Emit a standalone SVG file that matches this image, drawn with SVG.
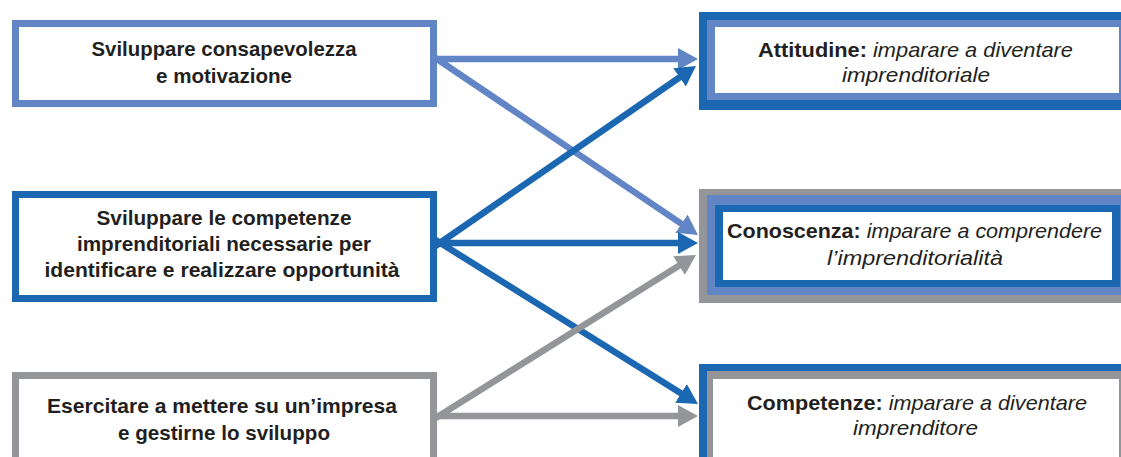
<svg xmlns="http://www.w3.org/2000/svg" width="1121" height="457" viewBox="0 0 1121 457">
<style>
.t{font-family:"Liberation Sans",Arial,sans-serif;font-size:21px;font-weight:bold;fill:#231f20;text-anchor:middle}
.i{font-style:italic;font-weight:normal}
.lb{stroke:#6286c5}
.db{stroke:#1b67b1}
.gr{stroke:#939598}
.c{fill:none;stroke-width:6.5;stroke-linecap:butt}
</style>
<defs>
<marker id="hl" markerUnits="userSpaceOnUse" markerWidth="20" markerHeight="22" viewBox="0 0 20 22" refX="6" refY="11" orient="auto"><path d="M0,0 L20,11 L0,22 z" fill="#6286c5"/></marker>
<marker id="hd" markerUnits="userSpaceOnUse" markerWidth="20" markerHeight="22" viewBox="0 0 20 22" refX="6" refY="11" orient="auto"><path d="M0,0 L20,11 L0,22 z" fill="#1b67b1"/></marker>
<marker id="hg" markerUnits="userSpaceOnUse" markerWidth="20" markerHeight="22" viewBox="0 0 20 22" refX="6" refY="11" orient="auto"><path d="M0,0 L20,11 L0,22 z" fill="#939598"/></marker>
</defs>
<rect width="1121" height="457" fill="#ffffff"/>
<g id="connectors">
<line class="c lb" x1="434" y1="59" x2="684" y2="59" marker-end="url(#hl)"/>
<line class="c lb" x1="434" y1="57" x2="686.4" y2="227.1" marker-end="url(#hl)"/>
<line class="c db" x1="434" y1="247" x2="684.5" y2="74" marker-end="url(#hd)"/>
<line class="c db" x1="434" y1="243" x2="684" y2="243" marker-end="url(#hd)"/>
<line class="c db" x1="434" y1="239" x2="686.1" y2="396.6" marker-end="url(#hd)"/>
<line class="c gr" x1="434" y1="419" x2="684.1" y2="262.5" marker-end="url(#hg)"/>
<line class="c gr" x1="434" y1="416" x2="684" y2="416" marker-end="url(#hg)"/>
</g>
<g id="node-l1">
<rect x="15.5" y="23.5" width="418" height="80" fill="#ffffff" stroke="#6286c5" stroke-width="7"/>
<text class="t" x="224" y="56" textLength="265" lengthAdjust="spacingAndGlyphs">Sviluppare consapevolezza</text>
<text class="t" x="224" y="83" textLength="136" lengthAdjust="spacingAndGlyphs">e motivazione</text>
</g>
<g id="node-l2">
<rect x="15.5" y="194.5" width="418" height="104" fill="#ffffff" stroke="#1b67b1" stroke-width="7"/>
<text class="t" x="224" y="225" textLength="255" lengthAdjust="spacingAndGlyphs">Sviluppare le competenze</text>
<text class="t" x="224" y="251" textLength="294" lengthAdjust="spacingAndGlyphs">imprenditoriali necessarie per</text>
<text class="t" x="222" y="277" textLength="355" lengthAdjust="spacingAndGlyphs">identificare e realizzare opportunità</text>
</g>
<g id="node-l3">
<rect x="15.5" y="375.5" width="418" height="86" fill="#ffffff" stroke="#939598" stroke-width="7"/>
<text class="t" x="222" y="413" textLength="350" lengthAdjust="spacingAndGlyphs">Esercitare a mettere su un’impresa</text>
<text class="t" x="224" y="440" textLength="212" lengthAdjust="spacingAndGlyphs">e gestirne lo sviluppo</text>
</g>
<g id="node-r1">
<rect x="699" y="12" width="440" height="98" fill="#1b67b1"/>
<rect x="707" y="20" width="424" height="80" fill="#6286c5"/>
<rect x="715" y="27" width="404" height="66" fill="#ffffff"/>
<text class="t" x="915.5" y="57" textLength="315" lengthAdjust="spacingAndGlyphs">Attitudine: <tspan class="i">imparare a diventare</tspan></text>
<text class="t i" x="916" y="82" textLength="148" lengthAdjust="spacingAndGlyphs">imprenditoriale</text>
</g>
<g id="node-r2">
<rect x="699" y="189" width="438" height="114" fill="#939598"/>
<rect x="707" y="195" width="422" height="100" fill="#6286c5"/>
<rect x="715" y="205" width="405" height="82" fill="#1b67b1"/>
<rect x="723" y="212" width="389" height="68" fill="#ffffff"/>
<text class="t" x="914.5" y="238" textLength="375" lengthAdjust="spacingAndGlyphs">Conoscenza: <tspan class="i">imparare a comprendere</tspan></text>
<text class="t i" x="915" y="265" textLength="176" lengthAdjust="spacingAndGlyphs">l’imprenditorialità</text>
</g>
<g id="node-r3">
<rect x="699" y="364" width="440" height="100" fill="#1b67b1"/>
<rect x="707" y="371" width="426" height="95" fill="#939598"/>
<rect x="713" y="379" width="406" height="90" fill="#ffffff"/>
<text class="t" x="917" y="410" textLength="340" lengthAdjust="spacingAndGlyphs">Competenze: <tspan class="i">imparare a diventare</tspan></text>
<text class="t i" x="915.5" y="435" textLength="125" lengthAdjust="spacingAndGlyphs">imprenditore</text>
</g>
</svg>
